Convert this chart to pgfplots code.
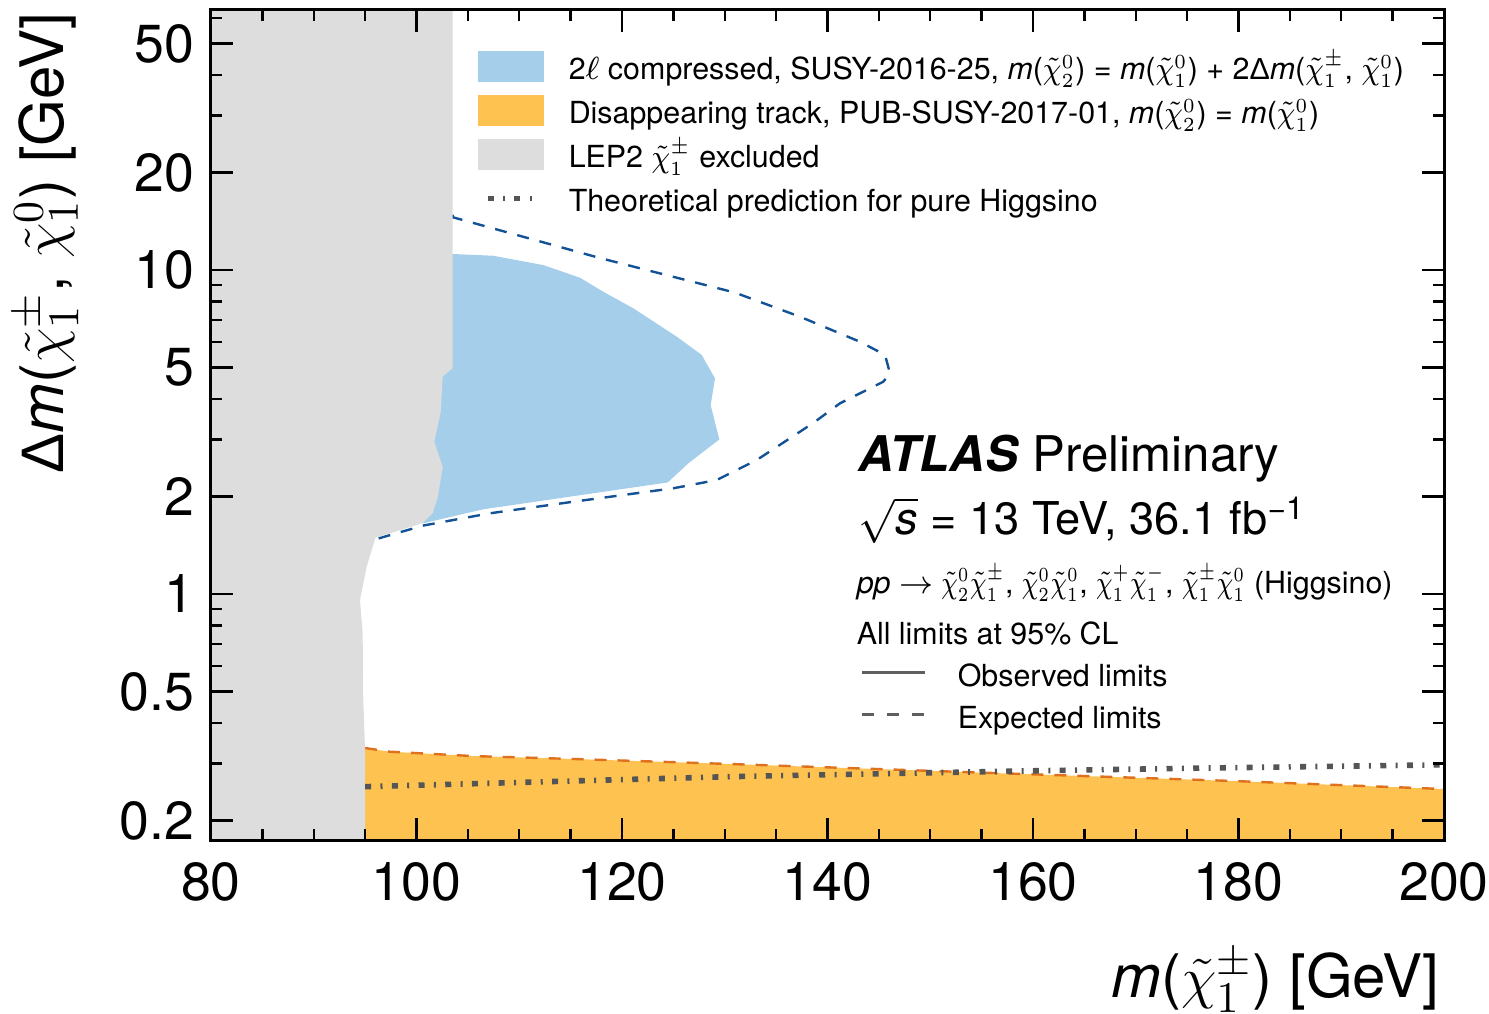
\documentclass[border=0pt]{standalone}
\usepackage{pgfplots}
\pgfplotsset{compat=1.18}
\usepackage{graphicx}
\usepackage{fontspec}
\setmainfont{TeX Gyre Heros}
\newfontfamily\greekfont{Liberation Sans}

\definecolor{lightblue}{RGB}{165,206,235}
\definecolor{lightorange}{RGB}{254,194,80}
\definecolor{lepgray}{RGB}{221,221,221}
\definecolor{expblue}{RGB}{20,82,150}
\definecolor{exporange}{RGB}{222,112,30}
\definecolor{theorygray}{RGB}{85,85,85}
\definecolor{keygray}{RGB}{95,95,95}

% sparticle symbols
\newcommand{\chipm}{\ensuremath{\tilde{\chi}^{\pm}_{1}}}
\newcommand{\chiz}[1]{\ensuremath{\tilde{\chi}^{0}_{#1}}}
% narrower set for the key and the process line
\newcommand{\nchi}[1]{\scalebox{0.88}[1]{$#1$}}
\newcommand{\pchi}[1]{\scalebox{0.78}[1]{$#1$}}
\newcommand{\lstrut}{\rule[-2.5pt]{0pt}{10.5pt}}

\pgfplotsset{
  box legend/.style={legend image code/.code={\fill[##1] (0pt,-3.875pt) rectangle (16.5pt,3.875pt);}},
  short line legend/.style={legend image code/.code={\draw[##1] (2.5pt,0pt) -- (13.5pt,0pt);}},
}

\begin{document}
\begin{tikzpicture}
\begin{axis}[
  name=ax,
  scale only axis, width=308.25pt, height=207.5pt,
  xmin=80, xmax=200,
  ymode=log, ymin=0.174, ymax=63.5,
  xtick={80,100,120,140,160,180,200},
  xticklabels={80,100,120,140,160,180,200},
  minor xtick={85,90,95,105,110,115,125,130,135,145,150,155,165,170,175,185,190,195},
  ytick={0.2,0.5,1,2,5,10,20,50},
  yticklabels={0.2,0.5,1,2,5,10,20,50},
  minor ytick={0.3,0.4,0.6,0.7,0.8,0.9,3,4,6,7,8,9,30,40,60},
  tick align=inside, tick pos=both,
  major tick length=5.5pt, minor tick length=2.75pt,
  every tick/.style={black, line width=0.6pt},
  axis line style={black, line width=0.75pt},
  tick label style={font=\fontsize{13.4}{15}\selectfont},
  xticklabel style={anchor=north, inner sep=0pt, yshift=-5.5pt},
  yticklabel style={anchor=east, inner sep=0pt, xshift=-4pt},
  label style={font=\fontsize{15}{17}\selectfont},
  xlabel={\textit{m}(\chipm) [GeV]},
  ylabel={{\greekfont Δ}\textit{m}(\chipm, \chiz{1}) [GeV]},
  xlabel style={at={(axis description cs:0.997,-0.190)}, anchor=base east, inner sep=0pt},
  ylabel style={at={(axis description cs:-0.1195,0.9976)}, anchor=base east, inner sep=0pt},
  axis on top,
  legend cell align=left,
  legend style={draw=none, fill=none, at={(axis description cs:0.2157,0.956)},
    anchor=north west, inner xsep=0pt, inner ysep=0pt,
    font=\fontsize{7.6}{9}\selectfont,
    nodes={inner sep=0pt}, row sep=1.5pt, column sep=6.25pt},
]

% 2l compressed search: observed exclusion
\addplot[fill=lightblue, draw=none, box legend] coordinates {
  (100,1.70) (100.66,1.653) (106.5,1.826) (124.45,2.21) (126.45,2.53)
  (129.47,3.00) (128.63,3.83) (129.05,4.63) (127.76,5.47) (125.32,6.23)
  (121.10,7.62) (118.18,8.57) (115.91,9.47) (112.34,10.36) (107.47,11.07)
  (103.52,11.21) (100,11.21)};
\addlegendentry{\lstrut 2$\ell$ compressed, SUSY-2016-25, \textit{m}(\nchi{\tilde{\chi}^{0}_{2}}) = \textit{m}(\nchi{\tilde{\chi}^{0}_{1}}) + 2{\greekfont Δ}\textit{m}(\nchi{\tilde{\chi}^{\pm}_{1}}, \nchi{\tilde{\chi}^{0}_{1}})}

% 2l compressed search: expected exclusion
\addplot[expblue, line width=0.6pt, dash pattern=on 3pt off 2.75pt, forget plot] coordinates {
  (103.5,14.8) (103.58,14.54) (117.86,10.89) (130.99,8.52) (137.32,7.177)
  (143.16,6.007) (145.60,5.47) (146.08,4.80) (145.43,4.521) (141.21,3.878)
  (138.78,3.402) (137.32,3.169) (133.11,2.592) (129.22,2.248) (124.99,2.120)
  (115.26,1.927) (107.15,1.775) (100.66,1.627) (96.1,1.478)};

% Disappearing track: observed exclusion
\addplot[fill=lightorange, draw=none, box legend] coordinates {
  (95,0.17) (95,0.3346) (97.4,0.326) (105.5,0.316) (115.2,0.3096)
  (130.5,0.2987) (156.8,0.2797) (179.5,0.2647) (200,0.250) (200,0.17)};
\addlegendentry{\lstrut Disappearing track, PUB-SUSY-2017-01, \textit{m}(\nchi{\tilde{\chi}^{0}_{2}}) = \textit{m}(\nchi{\tilde{\chi}^{0}_{1}})}

% Disappearing track: expected exclusion
\addplot[exporange, line width=0.6pt, dash pattern=on 3pt off 2.75pt, forget plot] coordinates {
  (95,0.3346) (97.4,0.326) (105.5,0.316) (115.2,0.3096)
  (130.5,0.2987) (156.8,0.2797) (179.5,0.2647) (200,0.250)};

% LEP2 chargino exclusion
\addplot[fill=lepgray, draw=none, box legend] coordinates {
  (80,64) (103.52,64) (103.52,4.98) (102.55,4.69) (102.36,3.65) (101.73,2.95)
  (102.55,2.47) (102.09,2.00) (101.58,1.778) (100.63,1.656) (96.0,1.49)
  (95.15,1.214) (94.5,0.958) (94.76,0.758) (94.82,0.471) (94.99,0.335)
  (95,0.17) (80,0.17)};
\addlegendentry{\lstrut LEP2 \nchi{\tilde{\chi}^{\pm}_{1}} excluded}

% Pure Higgsino mass splitting
\addplot[theorygray, line width=1.4pt, dash pattern=on 1.5pt off 2.34pt on 0.5pt off 2.34pt,
  short line legend] coordinates {
  (95,0.2542) (130.5,0.2730) (159.2,0.2843) (175,0.2897) (200,0.2970)};
\addlegendentry{\lstrut Theoretical prediction for pure Higgsino}

% Labels
\node[anchor=base west, inner sep=0pt, font=\fontsize{12.3}{14}\selectfont]
  at (axis description cs:0.5247,0.4434) {\textbf{\textit{ATLAS}} Preliminary};
\node[anchor=base west, inner sep=0pt, font=\fontsize{11.3}{14}\selectfont]
  at (axis description cs:0.5247,0.3675) {$\sqrt{\mbox{\textit{s}}}$ = 13 TeV, 36.1 fb\textsuperscript{\textminus1}};
\node[anchor=base west, inner sep=0pt, font=\fontsize{7.6}{9}\selectfont]
  at (axis description cs:0.5231,0.2976) {\textit{pp} $\rightarrow$ \pchi{\tilde{\chi}^{0}_{2}\tilde{\chi}^{\pm}_{1}}, \pchi{\tilde{\chi}^{0}_{2}\tilde{\chi}^{0}_{1}}, \pchi{\tilde{\chi}^{+}_{1}\tilde{\chi}^{-}_{1}}, \pchi{\tilde{\chi}^{\pm}_{1}\tilde{\chi}^{0}_{1}} (Higgsino)};
\node[anchor=base west, inner sep=0pt, font=\fontsize{7.6}{9}\selectfont]
  at (axis description cs:0.5231,0.2361) {All limits at 95\% CL};
\draw[keygray, line width=0.75pt] (axis description cs:0.528,0.2024) -- (axis description cs:0.579,0.2024);
\node[anchor=base west, inner sep=0pt, font=\fontsize{7.6}{9}\selectfont]
  at (axis description cs:0.605,0.1855) {Observed limits};
\draw[keygray, line width=0.75pt, dash pattern=on 3pt off 3.25pt] (axis description cs:0.528,0.1518) -- (axis description cs:0.579,0.1518);
\node[anchor=base west, inner sep=0pt, font=\fontsize{7.6}{9}\selectfont]
  at (axis description cs:0.605,0.1349) {Expected limits};
\end{axis}
\pgfresetboundingbox
\path[use as bounding box] ([xshift=-52.75pt,yshift=-43.25pt]ax.south west) rectangle ([xshift=11.25pt,yshift=2.5pt]ax.north east);
\end{tikzpicture}
\end{document}
